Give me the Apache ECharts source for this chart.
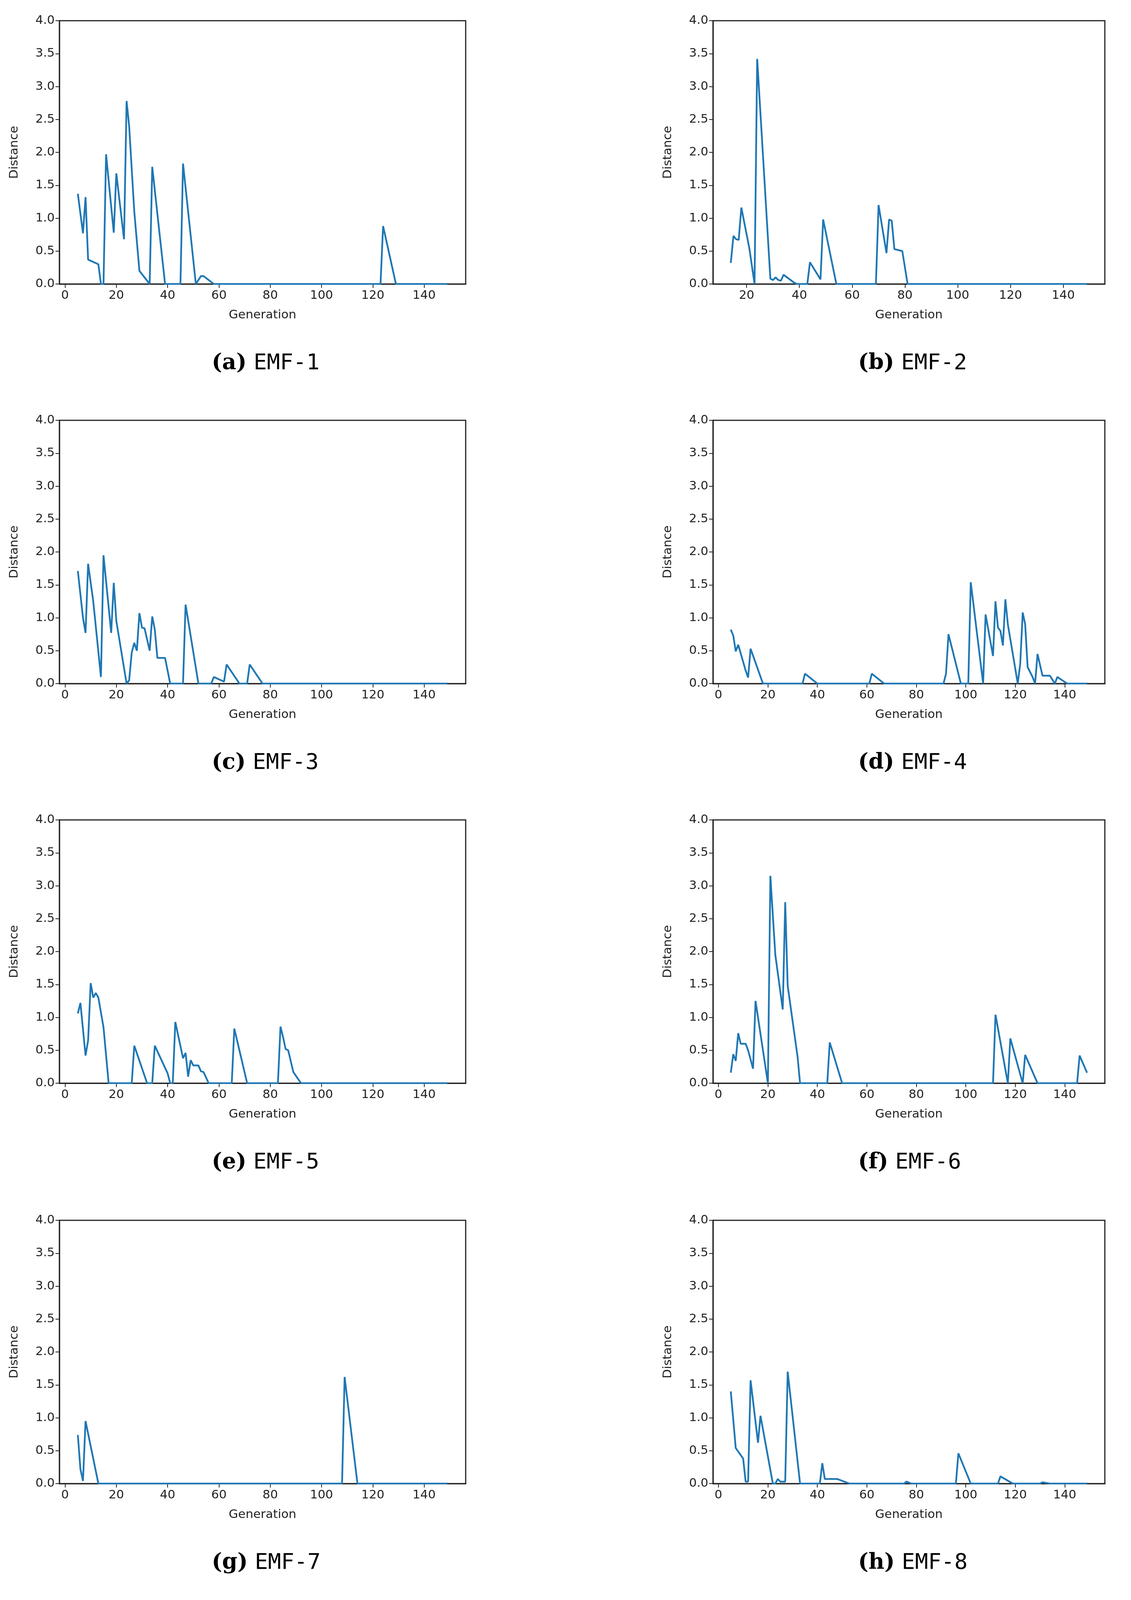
<!DOCTYPE html>
<html>
<head>
<meta charset="utf-8">
<title>EMF distance</title>
<script src="https://cdn.jsdelivr.net/npm/echarts@6/dist/echarts.min.js"></script>
<style>
  html,body{margin:0;padding:0;background:#fff;}
  #main{width:2895px;height:5107px;}
</style>
</head>
<body>
<div id="main"></div>
<script>
// data: [generation, distance]
var emf1 = [[5,1.37],[7,0.77],[8,1.32],[9,0.37],[13,0.30],[14,0],[15,0],[16,1.97],[19,0.78],[20,1.68],[23,0.68],[24,2.78],[25,2.4],[27,1.1],[29,0.2],[33,0],[34,1.78],[39,0],[45,0],[46,1.83],[51,0],[53,0.12],[54,0.12],[58,0],[123,0],[124,0.88],[129,0],[149,0]];
var emf2 = [[14,0.32],[15,0.73],[16,0.68],[17,0.67],[18,1.16],[21,0.55],[23,0],[24,3.42],[29,0.08],[30,0.06],[31,0.1],[32,0.06],[33,0.05],[34,0.14],[38,0.02],[39,0],[43,0],[44,0.33],[48,0.07],[49,0.98],[54,0],[69,0],[70,1.2],[73,0.47],[74,0.98],[75,0.96],[76,0.53],[79,0.5],[81,0],[149,0]];
var emf3 = [[5,1.71],[7,1.0],[8,0.77],[9,1.82],[11,1.25],[14,0.1],[15,1.95],[18,0.77],[19,1.53],[20,0.95],[24,0],[25,0.05],[26,0.47],[27,0.62],[28,0.5],[29,1.07],[30,0.85],[31,0.84],[33,0.5],[34,1.02],[35,0.82],[36,0.39],[39,0.39],[41,0],[46,0],[47,1.2],[52,0],[57,0],[58,0.1],[62,0.03],[63,0.29],[68,0],[71,0],[72,0.29],[77,0],[149,0]];
var emf4 = [[5,0.82],[6,0.73],[7,0.49],[8,0.59],[11,0.2],[12,0.09],[13,0.53],[18,0],[34,0],[35,0.15],[40,0],[61,0],[62,0.15],[67,0],[91,0],[92,0.15],[93,0.75],[98,0],[101,0],[102,1.54],[107,0],[108,1.05],[111,0.42],[112,1.25],[113,0.85],[114,0.8],[115,0.58],[116,1.28],[117,0.9],[121,0],[122,0.3],[123,1.08],[124,0.9],[125,0.25],[127,0.1],[128,0],[129,0.45],[131,0.12],[134,0.12],[136,0],[137,0.1],[141,0],[149,0]];
var emf5 = [[5,1.06],[6,1.22],[8,0.42],[9,0.65],[10,1.52],[11,1.3],[12,1.37],[13,1.3],[15,0.85],[17,0],[26,0],[27,0.57],[32,0],[34,0],[35,0.57],[40,0.15],[41,0],[42,0],[43,0.93],[46,0.38],[47,0.46],[48,0.1],[49,0.35],[50,0.27],[52,0.27],[53,0.18],[54,0.17],[56,0],[65,0],[66,0.83],[71,0],[83,0],[84,0.86],[85,0.7],[86,0.52],[87,0.5],[89,0.17],[92,0],[149,0]];
var emf6 = [[5,0.16],[6,0.44],[7,0.34],[8,0.76],[9,0.6],[10,0.6],[11,0.6],[12,0.5],[14,0.22],[15,1.25],[20,0],[21,3.15],[23,1.95],[26,1.12],[27,2.75],[28,1.48],[32,0.4],[33,0],[44,0],[45,0.62],[50,0],[111,0],[112,1.04],[117,0],[118,0.68],[123,0],[124,0.43],[129,0],[145,0],[146,0.42],[149,0.16]];
var emf7 = [[5,0.74],[6,0.22],[7,0.04],[8,0.95],[13,0],[108,0],[109,1.62],[114,0],[149,0]];
var emf8 = [[5,1.4],[7,0.54],[10,0.38],[11,0.03],[12,0.03],[13,1.57],[16,0.62],[17,1.03],[22,0],[23,0],[24,0.07],[25,0.03],[27,0.03],[28,1.7],[33,0],[41,0],[42,0.31],[43,0.07],[48,0.07],[53,0],[75,0],[76,0.03],[78,0],[96,0],[97,0.46],[102,0],[113,0],[114,0.11],[119,0],[130,0],[131,0.02],[134,0],[149,0]];
var emf9 = [[5,0.65],[6,0.17],[7,1.31],[8,1.06],[9,1.08],[10,0.8],[11,0.83],[12,0.54],[13,0.48],[17,0.09],[18,0.93],[19,0.7],[20,1.66],[24,0.38],[25,0],[28,0],[29,0.43],[31,0.27],[32,1.34],[34,0.87],[35,1.33],[38,0.5],[39,0.48],[40,0.2],[44,0],[58,0],[59,0.28],[63,0.07],[64,0.22],[69,0],[149,0]];
var emf10 = [[7,0],[54,0],[57,'-'],[60,0],[61,0],[62,0.52],[65,0.2],[66,0.58],[71,0],[98,0],[99,0.92],[104,0],[127,0],[128,0.34],[133,0],[149,0]];

var seriesList = [emf1,emf2,emf3,emf4,emf5,emf6,emf7,emf8,emf9,emf10];
var captions = ['a','b','c','d','e','f','g','h','i','j'];
var xTicks = [0,20,40,60,80,100,120,140];
var xTicksB = [20,40,60,80,100,120,140];
var xRange = [[-2.2,156.2],[7.25,155.75],[-2.2,156.2],[-2.2,156.2],[-2.2,156.2],[-2.2,156.2],[-2.2,156.2],[-2.2,156.2],[-2.2,156.2],[-0.1,156.1]];

var rowTop = [53,1076,2099,3124,4170];
var plotH = 674;
var colLeft = [152,1825];
var colW = [1040,1003];

var chart = echarts.init(document.getElementById('main'));
var grids = [], xAxes = [], yAxes = [], series = [], graphics = [];
var font = 'DejaVu Sans';

for (var i = 0; i < 10; i++) {
  var row = Math.floor(i/2), col = i%2;
  grids.push({left:colLeft[col], top:rowTop[row], width:colW[col], height:plotH,
    show:true, borderColor:'#222', borderWidth:3, backgroundColor:'#fff'});
  var ticks = (i==1) ? xTicksB : xTicks;
  xAxes.push({type:'value', gridIndex:i, min:xRange[i][0], max:xRange[i][1],
    name:'Generation', nameLocation:'middle', nameGap:64,
    nameTextStyle:{fontFamily:font, fontSize:31, color:'#222'},
    axisLine:{onZero:false, lineStyle:{color:'#222', width:3}},
    axisTick:{customValues:ticks, length:10, lineStyle:{color:'#222', width:2}},
    axisLabel:{customValues:ticks, fontFamily:font, fontSize:31, color:'#222', margin:14},
    splitLine:{show:false}});
  yAxes.push({type:'value', gridIndex:i, min:0, max:4, interval:0.5,
    name:'Distance', nameLocation:'middle', nameGap:100,
    nameTextStyle:{fontFamily:font, fontSize:31, color:'#222'},
    axisLine:{show:true, onZero:false, lineStyle:{color:'#222', width:3}},
    axisTick:{show:true, length:10, lineStyle:{color:'#222', width:2}},
    axisLabel:{fontFamily:font, fontSize:31, color:'#222', margin:12,
      formatter:function(v){return v.toFixed(1);}},
    splitLine:{show:false}});
  series.push({type:'line', xAxisIndex:i, yAxisIndex:i, data:seriesList[i],
    showSymbol:false, connectNulls:false, lineStyle:{color:'#1f77b4', width:4.5}});
  graphics.push({type:'text', left:colLeft[col] + colW[col]/2 - 130, top:rowTop[row] + plotH + 175,
    style:{text:'{b|(' + captions[i] + ')}{s| }{m|EMF-' + (i+1) + '}',
      rich:{b:{fontFamily:'DejaVu Serif', fontWeight:'bold', fontSize:56, fill:'#000'},
            s:{fontSize:56, width:18},
            m:{fontFamily:'DejaVu Sans Mono', fontSize:56, fill:'#000'}}}});
}

chart.setOption({
  animation:false,
  backgroundColor:'#fff',
  grid:grids, xAxis:xAxes, yAxis:yAxes, series:series, graphic:graphics
});
</script>
</body>
</html>
